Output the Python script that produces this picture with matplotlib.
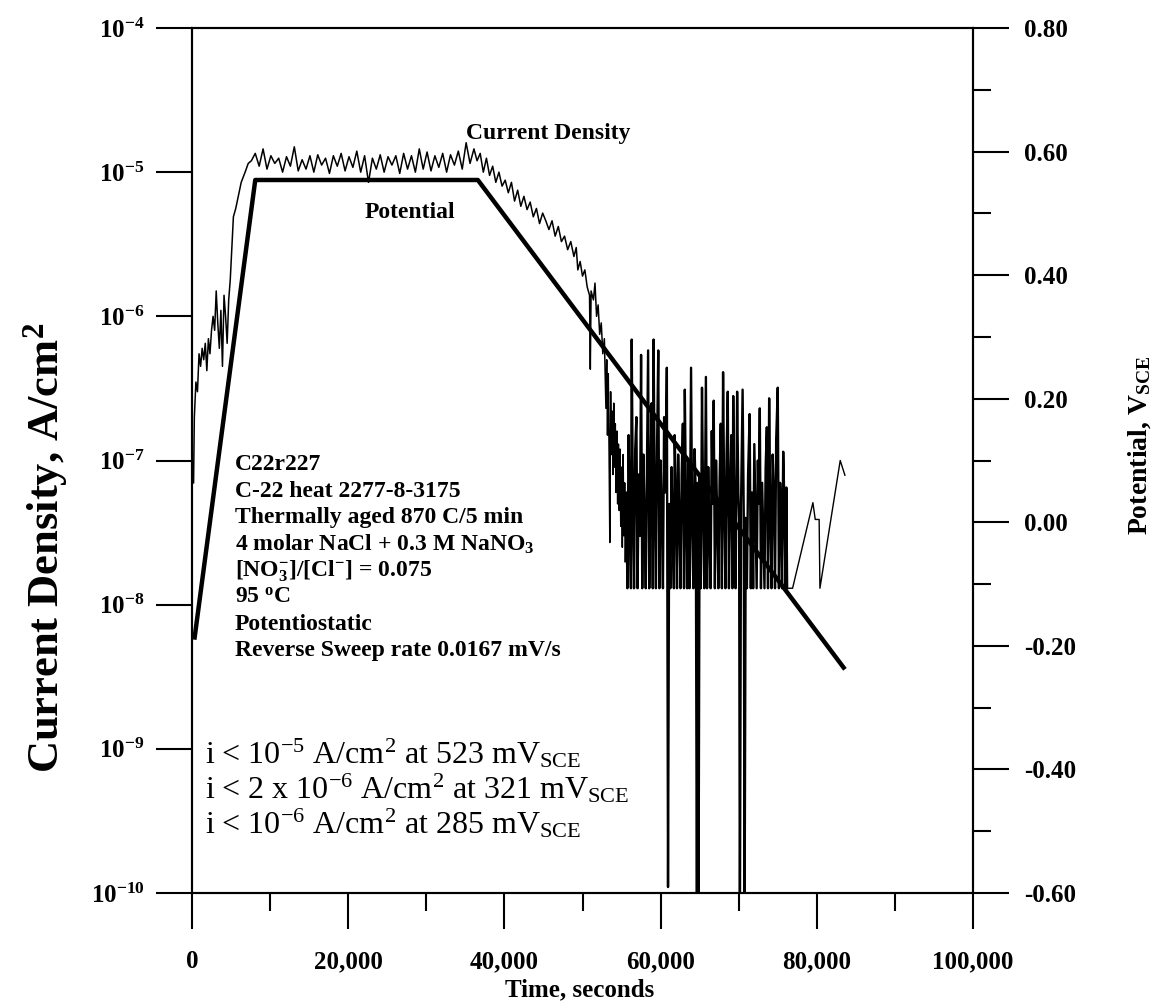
import matplotlib
matplotlib.use("Agg")
import matplotlib.pyplot as plt
from matplotlib.ticker import MultipleLocator, FormatStrFormatter, NullLocator

plt.rcParams['font.family'] = ['Liberation Serif', 'DejaVu Serif']
plt.rcParams['mathtext.fontset'] = 'custom'
plt.rcParams['mathtext.rm'] = 'Liberation Serif'
plt.rcParams['mathtext.bf'] = 'Liberation Serif:bold'
plt.rcParams['mathtext.it'] = 'Liberation Serif:italic'
plt.rcParams['mathtext.default'] = 'rm'
plt.rcParams['axes.unicode_minus'] = False

# ---- current density, A/cm2 ----
t_rise = [200, 300, 500, 700, 900, 1100, 1300, 1500, 1700, 1900,
          2100, 2300, 2500, 2700, 2900, 3100, 3300, 3500, 3700, 3900,
          4100, 4300, 4500, 4700, 4900, 5100, 5300, 5600, 5900, 6300,
          6800, 7200]
i_rise = [7e-8, 2e-7, 3.5e-7, 3e-7, 5.5e-7, 4.5e-7, 6e-7, 5e-7, 6.5e-7, 4.2e-7,
          7e-7, 5.5e-7, 8e-7, 1.0e-6, 8e-7, 1.5e-6, 9e-7, 6e-7, 1.1e-6, 4.5e-7,
          1.4e-6, 1.0e-6, 6.5e-7, 1.3e-6, 1.8e-6, 3e-6, 4.9e-6, 5.6e-6, 6.7e-6, 8.5e-6,
          1.0e-5, 1.15e-5]

t_plateau = [7600, 8100, 8600, 9100, 9600, 10100, 10600, 11100, 11600, 12100,
             12600, 13100, 13600, 14100, 14600, 15100, 15600, 16100, 16600, 17100,
             17600, 18100, 18600, 19100, 19600, 20100, 20600, 21100, 21600, 22100,
             22600, 23100, 23600, 24100, 24600, 25100, 25600, 26100, 26600, 27100,
             27600, 28100, 28600, 29100, 29600, 30100, 30600, 31100, 31600, 32100,
             32600, 33100, 33600, 34100, 34600, 35100, 35600, 36100]
i_plateau = [1.20e-5, 1.35e-5, 1.10e-5, 1.45e-5, 1.05e-5, 1.30e-5, 1.15e-5, 1.25e-5, 1.00e-5, 1.28e-5,
             1.10e-5, 1.50e-5, 1.02e-5, 1.22e-5, 1.05e-5, 1.30e-5, 1.00e-5, 1.32e-5, 1.12e-5, 1.25e-5,
             0.98e-5, 1.30e-5, 1.10e-5, 1.35e-5, 1.02e-5, 1.28e-5, 1.08e-5, 1.40e-5, 1.00e-5, 1.30e-5,
             0.85e-5, 1.25e-5, 1.05e-5, 1.32e-5, 1.00e-5, 1.28e-5, 1.12e-5, 1.30e-5, 0.98e-5, 1.35e-5,
             1.05e-5, 1.30e-5, 1.00e-5, 1.45e-5, 1.05e-5, 1.38e-5, 1.02e-5, 1.30e-5, 1.08e-5, 1.35e-5,
             1.00e-5, 1.32e-5, 1.12e-5, 1.40e-5, 1.05e-5, 1.60e-5, 1.15e-5, 1.45e-5]

decay = [(36500, 1.2e-5), (36900, 1.35e-5), (37300, 1.0e-5), (37700, 1.25e-5), (38100, 9.5e-6),
         (38500, 1.1e-5), (38900, 8.5e-6), (39300, 1.0e-5), (39700, 8e-6), (40100, 8.8e-6),
         (40500, 7.2e-6), (40900, 8.5e-6), (41300, 6.3e-6), (41700, 7.5e-6), (42100, 5.8e-6),
         (42500, 6.8e-6), (42900, 5.5e-6), (43300, 6.2e-6), (43700, 4.9e-6), (44100, 5.6e-6),
         (44500, 4.4e-6), (44900, 5.2e-6), (45300, 4.6e-6), (45700, 4.0e-6), (46100, 4.6e-6),
         (46500, 3.6e-6), (46900, 4.2e-6), (47300, 3.3e-6), (47700, 3.6e-6), (48100, 2.9e-6),
         (48500, 3.3e-6), (48900, 2.6e-6), (49200, 3.0e-6), (49400, 2.1e-6), (49700, 2.4e-6),
         (50000, 1.9e-6), (50300, 2.1e-6), (50600, 1.6e-6), (50900, 1.4e-6), (51000, 4.3e-7),
         (51100, 1.5e-6), (51400, 1.3e-6), (51600, 1.7e-6), (51800, 1.0e-6), (52000, 1.2e-6),
         (52200, 7.5e-7), (52400, 9e-7), (52600, 5.5e-7), (52800, 7e-7), (53000, 2.3e-7),
         (53100, 5e-7), (53200, 1.5e-7), (53300, 4e-7), (53400, 1.2e-7), (53500, 2.7e-8),
         (53600, 3e-7), (53700, 1.1e-7), (53800, 2.2e-7), (53900, 8e-8), (54000, 2.5e-7),
         (54100, 9e-8), (54200, 1.8e-7), (54300, 6e-8), (54400, 1.6e-7), (54500, 5e-8),
         (54600, 1.3e-7), (54700, 4.5e-8), (54800, 1.2e-7), (54900, 3.5e-8), (55000, 9e-8),
         (55100, 2.5e-8), (55200, 1.1e-7), (55300, 3e-8), (55400, 7e-8), (55500, 2e-8)]

# noisy part: the trace bottoms out at F and spikes up / down
F = 1.3e-8
t_noise = [55600, 55750, 55900, 56050, 56200, 56300, 56450, 56600, 56750, 56900,
           57050, 57200, 57350, 57500, 57650, 57800, 57950, 58100, 58250, 58400,
           58550, 58700, 58850, 59000, 59100, 59250, 59400, 59550, 59700, 59850,
           60000, 60150, 60300, 60450, 60600, 60800, 60950, 61100, 61250, 61400,
           61550, 61700, 61800, 61950, 62100, 62250, 62400, 62550, 62700, 62850,
           63000, 63100, 63250, 63400, 63550, 63700, 63900, 64050, 64200, 64350,
           64500, 64650, 64750, 64850, 65000, 65150, 65300, 65450, 65600, 65800,
           65950, 66100, 66250, 66400, 66550, 66700, 66800, 66950, 67100, 67250,
           67400, 67550, 67700, 67850, 68000, 68150, 68300, 68450, 68600, 68750,
           68900, 69050, 69200, 69300, 69450, 69600, 69800, 69950, 70050, 70150,
           70300, 70400, 70500, 70650, 70750, 70900, 71050, 71200, 71400, 71550,
           71700, 71850, 72000, 72150, 72300, 72450, 72550, 72700, 72850, 73000,
           73150, 73300, 73450, 73600, 73750, 73900, 74050, 74200, 74350, 74500,
           74650, 74800, 75000, 75150, 75300, 75450, 75550, 75700, 75850, 76000,
           76100, 76200]
i_noise = [6e-8, F, 1.5e-7, 4e-8, F, 6.9e-7, 5e-8, F, 1.2e-7, 2e-7,
           F, 8e-8, 3e-8, 5.4e-7, F, 1.1e-7, 4e-8, F, 9e-8, 5.8e-7,
           F, 7e-8, 2.5e-7, F, 6.9e-7, 6e-8, F, 1.3e-7, 5.8e-7, F,
           1e-7, 4e-8, F, 2e-7, 6e-8, 4.4e-7, 1.1e-10, 5e-8, F, 9e-8,
           3e-8, F, 1.5e-7, 6e-8, F, 1.1e-7, 4e-8, F, 8e-8, 1.8e-7,
           F, 3.1e-7, 5e-8, F, 1e-7, F, 4.4e-7, 3e-8, F, 1.2e-7,
           6e-8, 5e-11, 7e-8, 5e-11, 8e-8, F, 3.2e-7, 5e-8, F, 3.8e-7,
           F, 9e-8, 3e-8, F, 1.6e-7, 5e-8, 2.6e-7, F, 1e-7, 4e-8,
           F, 7e-8, 1.8e-7, F, 4.1e-7, 5e-8, F, 1.1e-7, 3e-7, F,
           6e-8, 1.5e-7, F, 2.8e-7, 4e-8, F, 3e-7, 6e-8, 4e-8, 5e-11,
           5e-8, 1.2e-7, 3.1e-7, 4e-8, 5e-11, 4e-8, F, 8e-8, 2.1e-7, F,
           6e-8, F, 1.3e-7, 4e-8, F, 1e-7, 5e-8, 2.3e-7, F, 7e-8,
           3e-8, F, 9e-8, 1.7e-7, F, 2.7e-7, 4e-8, F, 1.1e-7, 6e-8,
           F, 1.4e-7, 3.2e-7, F, 7e-8, 4e-8, F, 1.15e-7, 5e-8, F,
           6.5e-8, F]

t_tail = [76900, 79500, 79800, 80300, 80400, 83000, 83600]
i_tail = [1.3e-8, 5.1e-8, 3.9e-8, 3.9e-8, 1.3e-8, 1e-7, 7.9e-8]

# ---- potential, V_SCE ----
t_pot = [300, 8100, 36600, 83600]
v_pot = [-0.19, 0.554, 0.554, -0.238]

t_smooth = t_rise + t_plateau + [p[0] for p in decay]
i_smooth = i_rise + i_plateau + [p[1] for p in decay]
t_noisy = t_smooth[-1:] + t_noise
i_noisy = i_smooth[-1:] + i_noise

W, H = 1159, 1002
def fx(x):
    return x / W
def fy(y):
    return 1 - y / H

fig = plt.figure(figsize=(W / 100, H / 100), dpi=100)
ax = fig.add_axes([fx(192), fy(893), (973 - 192) / W, (893 - 28) / H])
ax.plot(t_smooth, i_smooth, color='black', lw=1.1)
ax.plot(t_noisy, i_noisy, color='black', lw=1.7)
ax.plot(t_noise[-1:] + t_tail, i_noise[-1:] + i_tail, color='black', lw=1.0)
ax.set_yscale('log')
ax.set_ylim(1e-10, 1e-4)
ax.set_xlim(0, 100000)

ax.set_xticks([0, 20000, 40000, 60000, 80000, 100000])
ax.set_xticklabels(['0', '20,000', '40,000', '60,000', '80,000', '100,000'],
                   fontweight='bold')
ax.xaxis.set_minor_locator(MultipleLocator(10000))
ax.set_yticks([1e-10, 1e-9, 1e-8, 1e-7, 1e-6, 1e-5, 1e-4])
ax.set_yticklabels([r'$\mathbf{10^{-%d}}$' % n for n in [10, 9, 8, 7, 6, 5, 4]])
ax.yaxis.set_minor_locator(NullLocator())
ax.tick_params(axis='both', which='major', direction='out', length=26, width=1.5,
               labelsize=18, pad=8)
ax.tick_params(axis='x', which='major', pad=15)
ax.tick_params(axis='x', which='minor', direction='out', length=13, width=1.5)
for s in ax.spines.values():
    s.set_linewidth(1.5)

ax2 = ax.twinx()
ax2.plot(t_pot, v_pot, color='black', lw=3.2, solid_capstyle='butt')
ax2.set_ylim(-0.6, 0.8)
ax2.yaxis.set_major_locator(MultipleLocator(0.2))
ax2.yaxis.set_minor_locator(MultipleLocator(0.1))
ax2.yaxis.set_major_formatter(FormatStrFormatter('%.2f'))
ax2.tick_params(axis='y', which='major', direction='out', length=26, width=1.5,
                labelsize=18, pad=11)
ax2.tick_params(axis='y', which='minor', direction='out', length=13, width=1.5)
for lab in ax2.get_yticklabels():
    lab.set_fontweight('bold')
for s in ax2.spines.values():
    s.set_linewidth(1.5)

# axis titles
fig.text(fx(46), fy(548), r'Current Density, A/cm$^\mathbf{2}$', rotation=90,
         ha='center', va='center', fontsize=32, fontweight='bold')
fig.text(fx(1140), fy(445), r'Potential, V$_\mathbf{SCE}$', rotation=90,
         ha='center', va='center', fontsize=20, fontweight='bold')
fig.text(fx(580), fy(990), 'Time, seconds', ha='center', va='center',
         fontsize=18, fontweight='bold')

# curve labels
fig.text(fx(548), fy(134), 'Current Density', ha='center', va='center',
         fontsize=17, fontweight='bold')
fig.text(fx(410), fy(212), 'Potential', ha='center', va='center',
         fontsize=17, fontweight='bold')

# test conditions
notes = ['C22r227',
         'C-22 heat 2277-8-3175',
         'Thermally aged 870 C/5 min',
         r'4 molar NaCl + 0.3 M NaNO$_\mathbf{3}$',
         r'[NO$_\mathbf{3}^\mathbf{-}$]/[Cl$^\mathbf{-}$] = 0.075',
         r'95 $^\mathbf{o}$C',
         'Potentiostatic',
         'Reverse Sweep rate 0.0167 mV/s']
for k, line in enumerate(notes):
    fig.text(fx(235), fy(465 + 26.5 * k), line, ha='left', va='center',
             fontsize=17, fontweight='bold')

limits = [r'i < 10$^{-5}$ A/cm$^{2}$ at 523 mV$_\mathrm{SCE}$',
          r'i < 2 x 10$^{-6}$ A/cm$^{2}$ at 321 mV$_\mathrm{SCE}$',
          r'i < 10$^{-6}$ A/cm$^{2}$ at 285 mV$_\mathrm{SCE}$']
for k, line in enumerate(limits):
    fig.text(fx(205), fy(754 + 35 * k), line, ha='left', va='center',
             fontsize=23)

fig.savefig('out.png', dpi=100)
